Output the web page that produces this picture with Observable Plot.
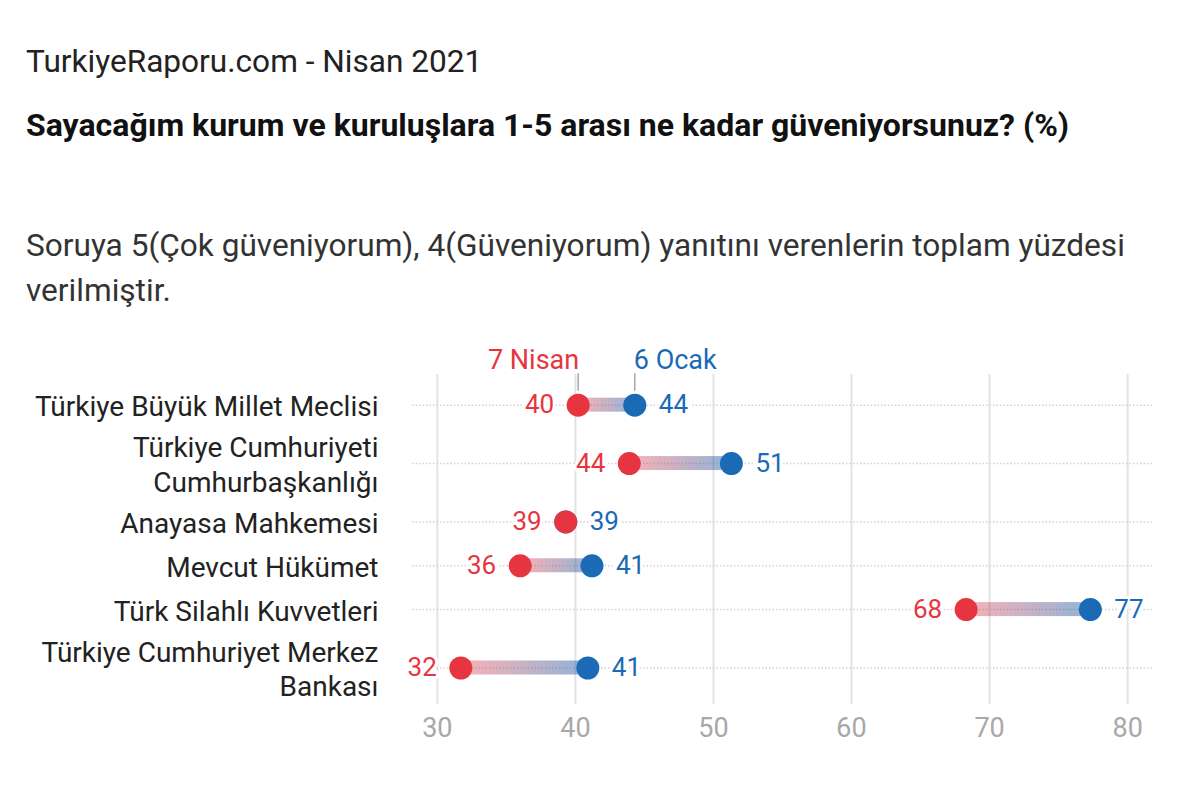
<!DOCTYPE html>
<html><head><meta charset="utf-8">
<script src="https://cdn.jsdelivr.net/npm/d3@7"></script>
<script src="https://cdn.jsdelivr.net/npm/@observablehq/plot@0.6"></script>
<style>
body{margin:0;background:#fff;font-family:Roboto,"Noto Sans",sans-serif;color:#222;width:1200px;height:788px;overflow:hidden}
#t1{position:absolute;left:26px;top:46px;font-size:31.6px;line-height:1;color:#222;white-space:nowrap}
#t2{position:absolute;left:26px;top:109px;font-size:32px;line-height:1;font-weight:700;color:#111;white-space:nowrap}
#t3{position:absolute;left:26px;top:223px;font-size:31.6px;line-height:45px;color:#333;width:1150px}
#chart{position:absolute;left:0;top:330px}
</style></head><body>
<div id="t1">TurkiyeRaporu.com - Nisan 2021</div>
<div id="t2">Sayacağım kurum ve kuruluşlara 1-5 arası ne kadar güveniyorsunuz? (%)</div>
<div id="t3">Soruya 5(Çok güveniyorum), 4(Güveniyorum) yanıtını verenlerin toplam yüzdesi verilmiştir.</div>
<div id="chart"></div>
<script>
const categories = [
  "Türkiye Büyük Millet Meclisi",
  "Türkiye Cumhuriyeti\nCumhurbaşkanlığı",
  "Anayasa Mahkemesi",
  "Mevcut Hükümet",
  "Türk Silahlı Kuvvetleri",
  "Türkiye Cumhuriyet Merkez\nBankası"
];
const nisan = [40.2, 43.9, 39.3, 36.0, 68.3, 31.7];   // 7 Nisan
const ocak  = [44.3, 51.3, 39.3, 41.2, 77.3, 40.9];   // 6 Ocak
const nisanLabels = ["40", "44", "39", "36", "68", "32"];
const ocakLabels  = ["44", "51", "39", "41", "77", "41"];
const seriesNames = ["7 Nisan", "6 Ocak"];
const xTicks = [30, 40, 50, 60, 70, 80];

const RED = "#e63541", BLUE = "#1a6ab5";

// vertical position derived from number of label lines (rows with 2-line labels are taller)
let acc = 0;
const rows = categories.map((c, i) => {
  const lines = c.split("\n").length;
  const h = lines === 1 ? 3 : 5;
  const pos = acc + h / 2;
  acc += h;
  return {cat: c, pos, nisan: nisan[i], ocak: ocak[i], nl: nisanLabels[i], ol: ocakLabels[i]};
});
const first = rows[0];

const plot = Plot.plot({
  width: 1200,
  height: 458,
  marginLeft: 412,
  marginRight: 48,
  marginTop: 44,
  marginBottom: 84,
  style: {fontFamily: "Roboto, 'Noto Sans', sans-serif", background: "white"},
  x: {domain: [28.2, 81.8], ticks: xTicks, label: null},
  y: {domain: [-0.6, acc], reverse: true, axis: null},
  marks: [
    Plot.ruleX(xTicks, {stroke: "#e3e3e3", strokeWidth: 2}),
    Plot.ruleY(rows, {y: "pos", stroke: "#d2d2d2", strokeWidth: 1.5, strokeDasharray: "1.5,2"}),
    Plot.axisX({ticks: xTicks, tickSize: 0, tickPadding: 13, fontSize: 27, color: "#a8a8a8", label: null}),
    Plot.text(rows, {x: 28.2, y: "pos", text: "cat", textAnchor: "end", dx: -34, fontSize: 28, fill: "#222", lineHeight: 1.22}),
    Plot.rect(rows, {x1: "nisan", x2: "ocak", y1: "pos", y2: "pos", insetTop: -7, insetBottom: -7, fill: "url(#barGrad)"}),
    // header annotations
    Plot.ruleX([first], {x: "nisan", y1: -0.65, y2: 0.55, stroke: "#999", strokeWidth: 1.3}),
    Plot.ruleX([first], {x: "ocak", y1: -0.65, y2: 0.55, stroke: "#999", strokeWidth: 1.3}),
    Plot.text([first], {x: "nisan", y: -1.6, text: () => seriesNames[0], textAnchor: "end", dx: 1, fontSize: 27, fill: RED}),
    Plot.text([first], {x: "ocak", y: -1.6, text: () => seriesNames[1], textAnchor: "start", dx: -1, fontSize: 27, fill: BLUE}),
    Plot.dot(rows, {x: "ocak", y: "pos", r: 11.5, fill: BLUE}),
    Plot.dot(rows, {x: "nisan", y: "pos", r: 11.5, fill: RED}),
    Plot.text(rows, {x: "nisan", y: "pos", text: "nl", textAnchor: "end", dx: -24, fontSize: 26, fill: RED, stroke: "white", strokeWidth: 6, paintOrder: "stroke"}),
    Plot.text(rows, {x: "ocak", y: "pos", text: "ol", textAnchor: "start", dx: 24, fontSize: 26, fill: BLUE, stroke: "white", strokeWidth: 6, paintOrder: "stroke"})
  ]
});
const defs = `<defs><linearGradient id="barGrad" x1="0" x2="1" y1="0" y2="0">
<stop offset="0%" stop-color="${RED}" stop-opacity="0.38"/>
<stop offset="100%" stop-color="${BLUE}" stop-opacity="0.5"/>
</linearGradient></defs>`;
plot.insertAdjacentHTML("afterbegin", defs);
document.getElementById("chart").appendChild(plot);
</script>
</body></html>
